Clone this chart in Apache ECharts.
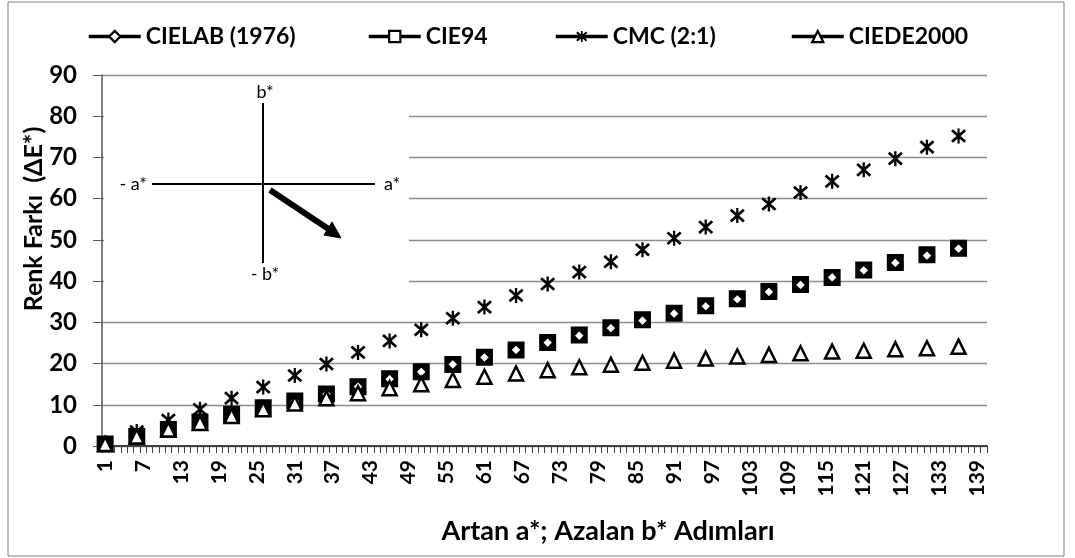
<!DOCTYPE html>
<html>
<head>
<meta charset="utf-8">
<title>Renk Farkı</title>
<script src="https://cdn.jsdelivr.net/npm/echarts@6/dist/echarts.min.js"></script>
<style>
  html, body { margin: 0; padding: 0; background: #fff; }
  #main { width: 1075px; height: 558px; }
</style>
</head>
<body>
<div id="main"></div>
<script>
// adim sayisi (x ekseni) 1..140
var stepCount = 140;
// olcum yapilan adimlar
var measuredSteps = [1, 6, 11, 16, 21, 26, 31, 36, 41, 46, 51, 56, 61, 66, 71, 76, 81, 86, 91, 96, 101, 106, 111, 116, 121, 126, 131, 136];

var cielab = [0.5, 2.0, 3.8, 5.6, 7.5, 9.2, 10.9, 12.6, 14.4, 16.2, 18.0, 19.8, 21.5, 23.3, 25.1, 26.8, 28.6, 30.4, 32.1, 33.9, 35.6, 37.4, 39.1, 40.9, 42.6, 44.4, 46.2, 47.9];
var cie94 = [0.5, 2.3, 4.0, 5.8, 7.7, 9.3, 10.9, 12.6, 14.4, 16.3, 18.0, 19.8, 21.5, 23.3, 25.1, 26.9, 28.7, 30.6, 32.2, 34.0, 35.7, 37.5, 39.2, 40.9, 42.7, 44.5, 46.4, 48.0];
var cmc = [0.5, 3.5, 6.3, 8.9, 11.6, 14.3, 17.1, 19.9, 22.7, 25.5, 28.2, 31.0, 33.7, 36.5, 39.3, 42.2, 44.7, 47.6, 50.4, 53.1, 55.9, 58.7, 61.5, 64.2, 67.0, 69.7, 72.5, 75.2];
var ciede2000 = [0.5, 2.3, 4.0, 5.6, 7.3, 8.9, 10.3, 11.6, 12.8, 14.0, 15.0, 16.0, 16.8, 17.6, 18.4, 19.1, 19.7, 20.2, 20.7, 21.2, 21.7, 22.1, 22.5, 22.9, 23.1, 23.5, 23.7, 24.1];

var seriesNames = ['CIELAB (1976)', 'CIE94', 'CMC (2:1)', 'CIEDE2000'];
var yTicks = { min: 0, max: 90, interval: 10 };

var categories = [];
for (var i = 1; i <= stepCount; i++) categories.push(String(i));

// olculmeyen adimlar bos kalir, boylece noktalar birlesmez
function spread(values) {
  var out = new Array(stepCount).fill(null);
  measuredSteps.forEach(function (s, k) { out[s - 1] = values[k]; });
  return out;
}

var starPath = 'path://M8.6 1L11.4 1L11.4 19L8.6 19Z M0.9 4.2L3.1 1.8L19.1 15.8L16.9 18.2Z M16.9 1.8L19.1 4.2L3.1 18.2L0.9 15.8Z';
var font = 'Lato';

function legendAt(name, left, fill) {
  var item = { color: fill || '#000', borderColor: '#000', borderWidth: fill ? 2.2 : 0 };
  return {
    left: left,
    top: 20,
    itemWidth: 52,
    itemHeight: 14,
    data: [{ name: name, itemStyle: item, lineStyle: { color: '#000', width: 3.5 } }],
    lineStyle: { color: '#000', width: 3.5 },
    textStyle: { fontFamily: font, fontWeight: 'bold', fontSize: 23, color: '#000' }
  };
}

var chart = echarts.init(document.getElementById('main'), null, { renderer: 'canvas' });

var option = {
  backgroundColor: '#fff',
  animation: false,
  legend: [
    legendAt(seriesNames[0], 82, '#fff'),
    legendAt(seriesNames[1], 362, '#fff'),
    legendAt(seriesNames[2], 549),
    legendAt(seriesNames[3], 785, '#fff')
  ],
  grid: { left: 102, right: 88, top: 75, bottom: 112 },
  xAxis: {
    type: 'category',
    data: categories,
    axisLine: { lineStyle: { color: '#404040', width: 2 } },
    axisTick: { show: true, interval: 0, length: 7, lineStyle: { color: '#404040', width: 1 } },
    axisLabel: {
      interval: 5,
      rotate: 90,
      margin: 14,
      fontFamily: font,
      fontWeight: 'bold',
      fontSize: 21,
      color: '#000'
    },
    splitLine: { show: false }
  },
  yAxis: {
    type: 'value',
    min: yTicks.min,
    max: yTicks.max,
    interval: yTicks.interval,
    axisLine: { show: true, lineStyle: { color: '#595959', width: 1.5 } },
    axisTick: { show: true, length: 9, lineStyle: { color: '#595959' } },
    axisLabel: { margin: 25, fontFamily: font, fontWeight: 'bold', fontSize: 24, color: '#000' },
    splitLine: { lineStyle: { color: '#8c8c8c', width: 1.3 } }
  },
  graphic: [
    // cerceve
    { type: 'rect', shape: { x: 8, y: 2, width: 1056, height: 554 }, style: { fill: null, stroke: '#7f7f7f', lineWidth: 1 }, z: 0 },
    // ic sekil (a*, b* ekseni)
    { type: 'rect', shape: { x: 104, y: 80, width: 305, height: 220 }, style: { fill: '#fff' }, z: 50 },
    { type: 'line', shape: { x1: 263, y1: 103, x2: 263, y2: 263 }, style: { stroke: '#000', lineWidth: 2 }, z: 51 },
    { type: 'line', shape: { x1: 152, y1: 184, x2: 375, y2: 184 }, style: { stroke: '#000', lineWidth: 2 }, z: 51 },
    { type: 'line', shape: { x1: 270, y1: 190, x2: 330, y2: 230 }, style: { stroke: '#000', lineWidth: 6 }, z: 51 },
    { type: 'polygon', shape: { points: [[341, 238], [324, 235], [332, 222]] }, style: { fill: '#000', stroke: '#000', lineWidth: 1 }, z: 51 },
    { type: 'text', x: 265, y: 92, style: { text: 'b*', font: '18px Lato', fill: '#000', align: 'center', verticalAlign: 'middle' }, z: 52 },
    { type: 'text', x: 265, y: 274, style: { text: '- b*', font: '18px Lato', fill: '#000', align: 'center', verticalAlign: 'middle' }, z: 52 },
    { type: 'text', x: 147, y: 184, style: { text: '- a*', font: '18px Lato', fill: '#000', align: 'right', verticalAlign: 'middle' }, z: 52 },
    { type: 'text', x: 384, y: 184, style: { text: 'a*', font: '18px Lato', fill: '#000', align: 'left', verticalAlign: 'middle' }, z: 52 },
    // eksen basliklari
    { type: 'text', x: 34, y: 219, rotation: Math.PI / 2, style: { text: 'Renk Farkı  (ΔE*)', font: 'bold 25px Lato', fill: '#000', align: 'center', verticalAlign: 'middle' }, z: 52 },
    { type: 'text', x: 608, y: 531, style: { text: 'Artan a*; Azalan b* Adımları', font: 'bold 27px Lato', fill: '#000', align: 'center', verticalAlign: 'middle' }, z: 52 }
  ],
  series: [
    {
      name: seriesNames[0],
      type: 'line',
      data: spread(cielab),
      symbol: 'diamond',
      symbolSize: 12,
      showAllSymbol: true,
      connectNulls: false,
      z: 4,
      lineStyle: { color: '#000', width: 3 },
      itemStyle: { color: '#fff', borderColor: '#000', borderWidth: 2.5 }
    },
    {
      name: seriesNames[1],
      type: 'line',
      data: spread(cie94),
      symbol: 'rect',
      symbolSize: 15,
      showAllSymbol: true,
      connectNulls: false,
      z: 3,
      lineStyle: { color: '#000', width: 3 },
      itemStyle: { color: '#000', borderColor: '#000', borderWidth: 2 }
    },
    {
      name: seriesNames[2],
      type: 'line',
      data: spread(cmc),
      symbol: starPath,
      symbolSize: 15,
      showAllSymbol: true,
      connectNulls: false,
      z: 5,
      lineStyle: { color: '#000', width: 3 },
      itemStyle: { color: '#000' }
    },
    {
      name: seriesNames[3],
      type: 'line',
      data: spread(ciede2000),
      symbol: 'triangle',
      symbolSize: 14,
      showAllSymbol: true,
      connectNulls: false,
      z: 6,
      lineStyle: { color: '#000', width: 3 },
      itemStyle: { color: '#fff', borderColor: '#000', borderWidth: 2.5 }
    }
  ]
};

chart.setOption(option);
</script>
</body>
</html>
